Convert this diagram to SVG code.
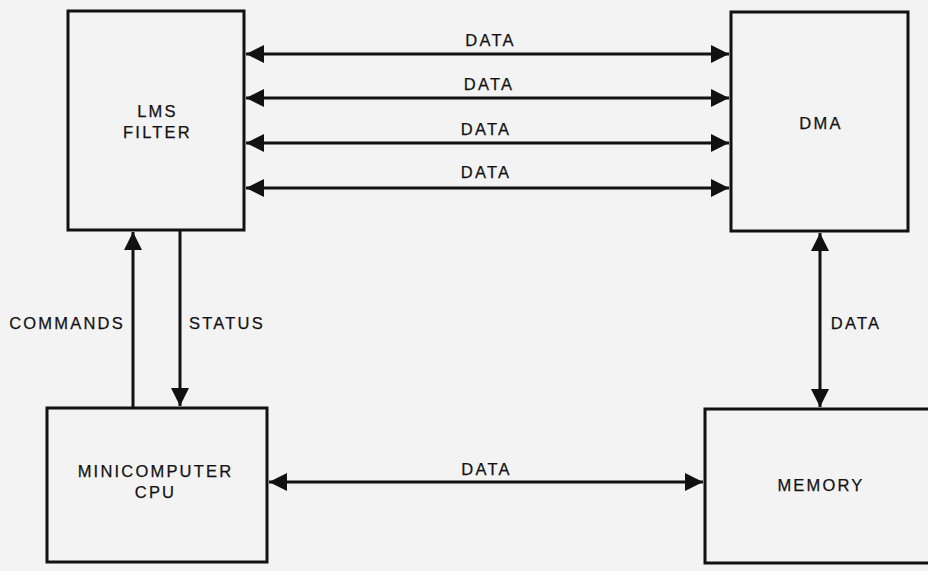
<svg xmlns="http://www.w3.org/2000/svg" width="928" height="571" viewBox="0 0 928 571">
<style>
.box{fill:none;stroke:#111;stroke-width:3}
.ln{fill:none;stroke:#111;stroke-width:3}
text{font-family:"Liberation Sans",Arial,Helvetica,sans-serif;font-size:16.5px;letter-spacing:2.2px;fill:#111;stroke:#111;stroke-width:0.25;text-anchor:middle}
</style>
<defs>
<marker id="ah" markerUnits="userSpaceOnUse" markerWidth="18" markerHeight="18" viewBox="0 0 18 18" refX="18" refY="9" orient="auto-start-reverse">
<path d="M0,0 L18,9 L0,18 z" fill="#111"/>
</marker>
</defs>
<rect width="928" height="571" fill="#f3f3f3"/>
<g id="lms"><rect class="box" x="68" y="11" width="176" height="219"/><text x="157.5" y="117">LMS</text><text x="157.5" y="138">FILTER</text></g>
<g id="dma"><rect class="box" x="731" y="12" width="177" height="219"/><text x="821" y="129">DMA</text></g>
<g id="cpu"><rect class="box" x="47" y="408" width="220" height="154"/><text x="155.5" y="477">MINICOMPUTER</text><text x="155.5" y="498">CPU</text></g>
<g id="memory"><rect class="box" x="705" y="409" width="226" height="154"/><text x="821" y="491">MEMORY</text></g>
<g id="connectors">
<line class="ln" x1="246" y1="54" x2="729" y2="54" marker-start="url(#ah)" marker-end="url(#ah)"/>
<line class="ln" x1="246" y1="98" x2="729" y2="98" marker-start="url(#ah)" marker-end="url(#ah)"/>
<line class="ln" x1="246" y1="143" x2="729" y2="143" marker-start="url(#ah)" marker-end="url(#ah)"/>
<line class="ln" x1="246" y1="188" x2="729" y2="188" marker-start="url(#ah)" marker-end="url(#ah)"/>
<line class="ln" x1="133" y1="408" x2="133" y2="232" marker-end="url(#ah)"/>
<line class="ln" x1="180" y1="230" x2="180" y2="406" marker-end="url(#ah)"/>
<line class="ln" x1="820" y1="233" x2="820" y2="407" marker-start="url(#ah)" marker-end="url(#ah)"/>
<line class="ln" x1="269" y1="482" x2="703" y2="482" marker-start="url(#ah)" marker-end="url(#ah)"/>
<text x="490.5" y="46">DATA</text>
<text x="489" y="90">DATA</text>
<text x="486" y="135">DATA</text>
<text x="486" y="178">DATA</text>
<text x="67" y="329">COMMANDS</text>
<text x="227" y="329">STATUS</text>
<text x="856" y="329">DATA</text>
<text x="486.5" y="475">DATA</text>
</g>
</svg>
